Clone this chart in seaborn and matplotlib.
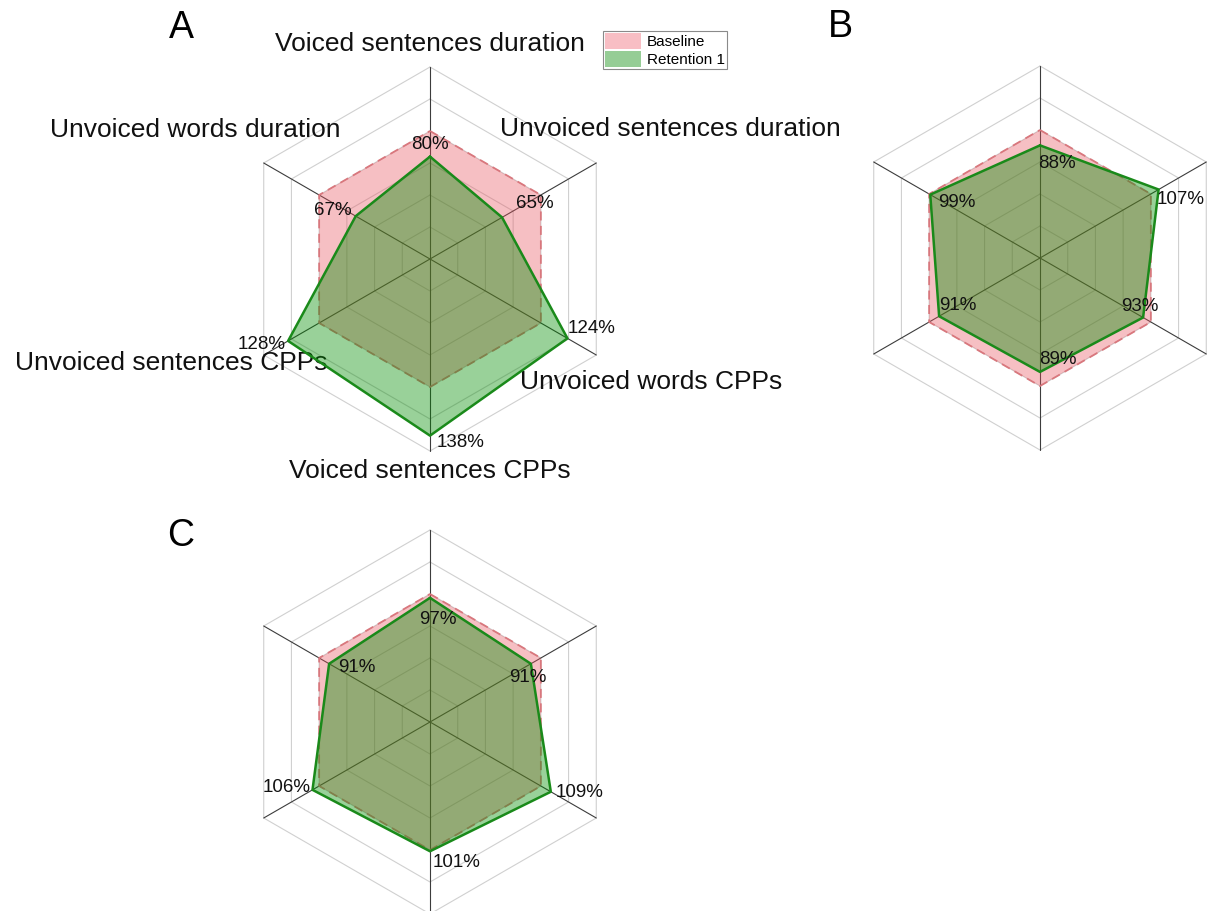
import numpy as np
import matplotlib
matplotlib.use("Agg")
import matplotlib.pyplot as plt
from matplotlib.patches import Patch
import seaborn as sns

# ---- data -------------------------------------------------------------
axis_labels = [
    "Voiced sentences duration",
    "Unvoiced sentences duration",
    "Unvoiced words CPPs",
    "Voiced sentences CPPs",
    "Unvoiced sentences CPPs",
    "Unvoiced words duration",
]
series_names = ["Baseline", "Retention 1"]
baseline = [100, 100, 100, 100, 100, 100]
retention_a = [80, 65, 124, 138, 128, 67]
retention_b = [88, 107, 93, 89, 91, 99]
retention_c = [97, 91, 109, 101, 106, 91]
ring_levels = [25, 50, 75, 100, 125, 150]
panel_letters = ["A", "B", "C"]

# ---- style ------------------------------------------------------------
sns.set_theme(style="white")
plt.rcParams["font.family"] = ["Liberation Sans", "DejaVu Sans"]
plt.rcParams["text.color"] = "black"

W, H, DPI = 1210, 911, 100
PX_PER_UNIT = 1.28          # pixels per percent point
HALF = 200                  # half-width of each panel in data units

PINK_FILL = "#E8505B"
PINK_EDGE = "#D9777D"
GREEN_FILL = "#008C00"
GREEN_EDGE = "#1A8A1A"

angles = np.deg2rad(90 - 60 * np.arange(6))


def to_xy(values):
    v = np.asarray(values, dtype=float)
    x = v * np.cos(angles)
    y = v * np.sin(angles)
    return np.append(x, x[0]), np.append(y, y[0])


def make_panel(fig, cx, cy):
    size = 2 * HALF * PX_PER_UNIT
    ax = fig.add_axes([(cx - size / 2) / W, (H - cy - size / 2) / H, size / W, size / H])
    ax.set_xlim(-HALF, HALF)
    ax.set_ylim(-HALF, HALF)
    ax.axis("off")
    ax.patch.set_alpha(0)
    return ax


def draw_radar(ax, values, label_offsets):
    # grid rings and spokes
    for lvl in ring_levels:
        gx, gy = to_xy([lvl] * 6)
        ax.plot(gx, gy, color="#d0d0d0", lw=0.8, zorder=1)
    for a in angles:
        ax.plot([0, ring_levels[-1] * np.cos(a)], [0, ring_levels[-1] * np.sin(a)],
                color="#3c3c3c", lw=0.8, zorder=1)

    bx, by = to_xy(baseline)
    ax.fill(bx, by, color=PINK_FILL, alpha=0.36, lw=0, zorder=2)
    sns.lineplot(x=bx, y=by, sort=False, estimator=None, ax=ax, color=PINK_EDGE,
                 lw=1.3, linestyle=(0, (5, 3)), zorder=3)

    rx, ry = to_xy(values)
    ax.fill(rx, ry, color=GREEN_FILL, alpha=0.40, lw=0, zorder=4)
    sns.lineplot(x=rx, y=ry, sort=False, estimator=None, ax=ax, color=GREEN_EDGE,
                 lw=1.8, zorder=5)
    ax.set_xlim(-HALF, HALF)
    ax.set_ylim(-HALF, HALF)
    ax.axis("off")

    for k, v in enumerate(values):
        dx, dy, ha = label_offsets[k]
        ax.annotate(f"{v}%", (rx[k], ry[k]), xytext=(dx, dy), textcoords="offset pixels",
                    ha=ha, va="center", fontsize=13.5, color="#111111", zorder=6)


fig = plt.figure(figsize=(W / DPI, H / DPI), dpi=DPI)
fig.patch.set_facecolor("white")

# value-label offsets in pixels: (dx, dy, ha)
offsets_a = [(0, 12, "center"), (14, 14, "left"), (0, 10, "left"),
             (7, -7, "left"), (-2, -4, "right"), (-4, 6, "right")]
offsets_b = [(-2, -18, "left"), (-2, -10, "left"), (-3, 11, "center"),
             (-1, 12, "left"), (0, 11, "left"), (8, -8, "left")]
offsets_c = [(-11, -22, "left"), (-3, -14, "center"), (5, -1, "left"),
             (3, -11, "left"), (-2, 2, "right"), (9, -4, "left")]

ax_a = make_panel(fig, 430, 259)
draw_radar(ax_a, retention_a, offsets_a)
ax_b = make_panel(fig, 1040, 258)
draw_radar(ax_b, retention_b, offsets_b)
ax_c = make_panel(fig, 430, 722)
draw_radar(ax_c, retention_c, offsets_c)

# category names around panel A (pixel offsets from the spoke tips)
name_offsets = [(0, 23), (74, 34), (55, -27), (0, -20), (-92, -8), (-68, 33)]
for k, name in enumerate(axis_labels):
    tip = (ring_levels[-1] * np.cos(angles[k]), ring_levels[-1] * np.sin(angles[k]))
    ax_a.annotate(name, tip, xytext=name_offsets[k], textcoords="offset pixels",
                  ha="center", va="center", fontsize=19, color="#111111")

# panel letters
for letter, (px, py) in zip(panel_letters, [(181, 38), (840, 37), (181, 546)]):
    fig.text(px / W, 1 - py / H, letter, fontsize=27, ha="center", va="baseline",
             color="black")

handles = [Patch(facecolor="#F8BEC4", edgecolor="none", label=series_names[0]),
           Patch(facecolor="#96CD96", edgecolor="none", label=series_names[1])]
leg = fig.legend(handles=handles, loc="upper left",
                 bbox_to_anchor=(603 / W, 1 - 31 / H), fontsize=11,
                 handlelength=2.35, handleheight=1.2, labelspacing=0.12,
                 borderpad=0.15, handletextpad=0.35, borderaxespad=0,
                 frameon=True, fancybox=False, framealpha=1, edgecolor="#8a8a8a")
leg.get_frame().set_linewidth(0.8)
for t in leg.get_texts():
    t.set_color("black")

fig.savefig("out.png", dpi=DPI, facecolor="white")
